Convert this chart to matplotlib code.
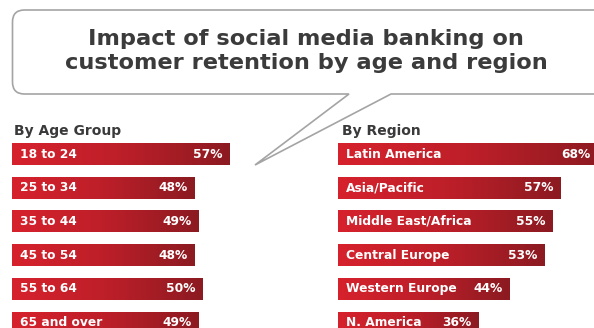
import matplotlib
matplotlib.use("Agg")
import matplotlib.pyplot as plt
import numpy as np
from matplotlib.colors import LinearSegmentedColormap
from matplotlib.path import Path
from matplotlib.patches import PathPatch

# 데이터: 연령대 / 지역별 고객 유지 효과
age_groups = ["18 to 24", "25 to 34", "35 to 44", "45 to 54", "55 to 64", "65 and over"]
age_values = [57, 48, 49, 48, 50, 49]

regions = ["Latin America", "Asia/Pacific", "Middle East/Africa", "Central Europe",
           "Western Europe", "N. America"]
region_values = [68, 57, 55, 53, 44, 36]

title = "Impact of social media banking on\ncustomer retention by age and region"

W, H = 594, 328
fig = plt.figure(figsize=(W / 100, H / 100), dpi=100)
fig.patch.set_facecolor("white")

red_grad = LinearSegmentedColormap.from_list("red_grad", ["#d6222d", "#bd1f29", "#8c1a21"])
grad = np.linspace(0, 1, 256).reshape(1, -1)

# 말풍선 + 제목 (픽셀 좌표)
bg = fig.add_axes([0, 0, 1, 1], zorder=0)
bg.set_xlim(0, W)
bg.set_ylim(H, 0)
bg.axis("off")

r = 12
x0, x1, y0, y1 = 12.5, 640, 10, 94
tip = (255, 165)
verts = [(349, y1), (x0 + r, y1), (x0, y1), (x0, y1 - r), (x0, y0 + r), (x0, y0), (x0 + r, y0),
         (x1, y0), (x1, y1), (391, y1), tip, (349, y1)]
codes = [Path.MOVETO, Path.LINETO, Path.CURVE3, Path.CURVE3, Path.LINETO, Path.CURVE3, Path.CURVE3,
         Path.LINETO, Path.LINETO, Path.LINETO, Path.LINETO, Path.CLOSEPOLY]
bg.add_patch(PathPatch(Path(verts, codes), facecolor="white", edgecolor="#a4a4a4", lw=1.2))
bg.text(306, 51, title, ha="center", va="center", fontsize=16.2, fontweight="bold",
        color="#3b3b3b", linespacing=1.22)

bg.text(14, 131, "By Age Group", ha="left", va="center", fontsize=10, fontweight="bold", color="#3a3a3a")
bg.text(342, 131, "By Region", ha="left", va="center", fontsize=10, fontweight="bold", color="#3a3a3a")


def bar_panel(left_px, width_px, px_per_pct, labels, values):
    top_px = 137
    ax = fig.add_axes([left_px / W, 0, width_px / W, (H - top_px) / H], zorder=1)
    ax.patch.set_alpha(0)
    ax.axis("off")
    step = 33.7
    ax.set_xlim(0, width_px / px_per_pct)
    ax.set_ylim((H - 154) / step, -(154 - top_px) / step)
    h = 22 / step
    xmax = ax.get_xlim()[1]
    bars = ax.barh(range(len(values)), values, height=h, color="#b71f28", lw=0)
    for i, (b, lab, v) in enumerate(zip(bars, labels, values)):
        im = ax.imshow(grad, cmap=red_grad, aspect="auto", extent=(0, v, i + h / 2, i - h / 2), zorder=2)
        im.set_clip_path(b)
        ax.annotate(lab, xy=(0, i), xytext=(8, 0), textcoords="offset pixels", ha="left", va="center",
                    fontsize=8.8, fontweight="bold", color="white", zorder=3)
        end = min(v, xmax)
        off = -7 if v <= xmax else -3
        ax.annotate(f"{v}%", xy=(end, i), xytext=(off, 0), textcoords="offset pixels", ha="right",
                    va="center", fontsize=8.8, fontweight="bold", color="white", zorder=3,
                    annotation_clip=False)
    ax.set_xlim(0, xmax)
    ax.set_ylim((H - 154) / step, -(154 - top_px) / step)
    return ax


bar_panel(12, 300, 3.81, age_groups, age_values)
bar_panel(338, W - 338, 3.9, regions, region_values)

fig.savefig("out.png", dpi=100, facecolor="white")
